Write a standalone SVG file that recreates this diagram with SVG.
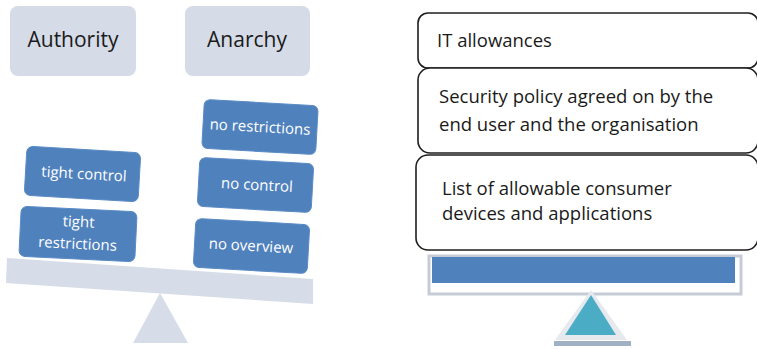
<svg xmlns="http://www.w3.org/2000/svg" width="757" height="349" viewBox="0 0 757 349">
<style>
.hdr{fill:#d5dbe7}
.hdrt{font-family:"Open Sans",sans-serif;font-size:21px;fill:#1a1a1a;text-anchor:middle}
.blk{fill:#4f81bd;stroke:#5b8bc4;stroke-width:1}
.blkt{font-family:"Open Sans",sans-serif;font-size:15px;fill:#ffffff;text-anchor:middle}
.plank{fill:#d6dce8}
.pol{fill:#ffffff;stroke:#1f1f1f;stroke-width:1.6}
.polt{font-family:"Open Sans",sans-serif;font-size:18.5px;fill:#1a1a1a}
</style>
<g id="authority">
<rect class="hdr" x="10" y="6" width="126" height="70" rx="8"/>
<text class="hdrt" x="73" y="47">Authority</text>
</g>
<g id="anarchy">
<rect class="hdr" x="185" y="6" width="125" height="70" rx="8"/>
<text class="hdrt" x="247" y="47">Anarchy</text>
</g>
<g id="scale-left">
<polygon class="plank" points="7,258 313,279 313,304 6,283"/>
<polygon class="plank" points="160,293 188,343 133,343"/>
</g>
<g id="tight-control" transform="rotate(3.3 82.5 174)">
<rect class="blk" x="25.5" y="149.5" width="114" height="49" rx="6"/>
<text class="blkt" x="84" y="179">tight control</text>
</g>
<g id="tight-restrictions" transform="rotate(2.8 78 234)">
<rect class="blk" x="20" y="209" width="116" height="50" rx="6"/>
<text class="blkt" x="78" y="227">tight</text>
<text class="blkt" x="78" y="249">restrictions</text>
</g>
<g id="no-restrictions" transform="rotate(3.2 260 127)">
<rect class="blk" x="203" y="102.5" width="114" height="49" rx="6"/>
<text class="blkt" x="260" y="132">no restrictions</text>
</g>
<g id="no-control" transform="rotate(3.2 255.5 185)">
<rect class="blk" x="198.5" y="160.5" width="114" height="49" rx="6"/>
<text class="blkt" x="257" y="190">no control</text>
</g>
<g id="no-overview" transform="rotate(3.2 251.5 246)">
<rect class="blk" x="194.5" y="221.5" width="114" height="49" rx="6"/>
<text class="blkt" x="251" y="251">no overview</text>
</g>
<g id="it-allowances">
<rect class="pol" x="418" y="13" width="340" height="55" rx="10"/>
<text class="polt" x="437" y="47">IT allowances</text>
</g>
<g id="security-policy">
<rect class="pol" x="418" y="68" width="340" height="85" rx="12"/>
<text class="polt" x="439" y="103">Security policy agreed on by the</text>
<text class="polt" x="439" y="131">end user and the organisation</text>
</g>
<g id="device-list">
<rect class="pol" x="416" y="155" width="342" height="95" rx="12"/>
<text class="polt" x="442" y="195">List of allowable consumer</text>
<text class="polt" x="442" y="220">devices and applications</text>
</g>
<g id="scale-right">
<rect x="429" y="256" width="312" height="38" fill="#ffffff" stroke="#c6ccd6" stroke-width="3"/>
<rect x="432" y="257" width="303" height="26" fill="#4f81bd"/>
<polygon points="591,290 627,340 555,340" fill="#e6e9ee"/>
<polygon points="591,295 616,335 565,335" fill="#4bacc6"/>
<rect x="554" y="341" width="77" height="5" fill="#9fb1c2"/>
</g>
</svg>
